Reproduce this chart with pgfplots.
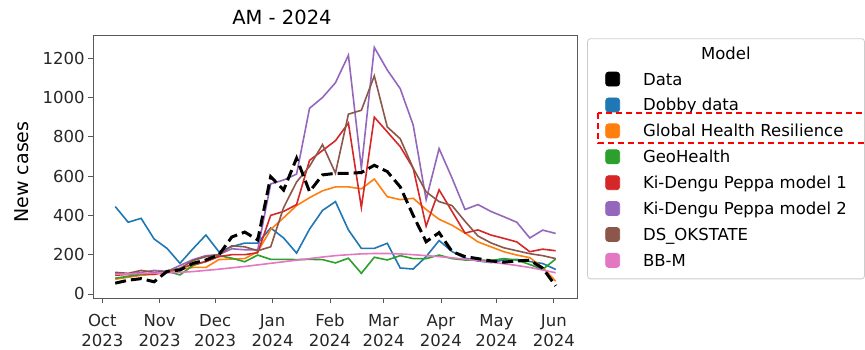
\documentclass[border=0pt]{standalone}
\usepackage{fontspec}
\setmainfont{DejaVu Sans}
\usepackage{pgfplots}
\pgfplotsset{compat=1.18}
\usepackage{pgfplotstable}
\definecolor{cblue}{HTML}{1F77B4}
\definecolor{corange}{HTML}{FF7F0E}
\definecolor{cgreen}{HTML}{2CA02C}
\definecolor{cred}{HTML}{D62728}
\definecolor{cpurple}{HTML}{9467BD}
\definecolor{cbrown}{HTML}{8C564B}
\definecolor{cpink}{HTML}{E377C2}
\pgfplotstableread{
d data dobby ghr geo kd1 kd2 ds bbm
7 55 445 75 80 95 105 110 100
14 70 365 85 90 100 100 105 102
21 78 385 95 100 105 110 120 104
28 62 280 100 105 100 120 110 106
35 115 232 110 115 115 115 115 108
42 122 156 125 97 130 145 130 110
49 156 230 135 145 150 175 170 114
56 173 300 135 165 165 195 190 120
63 199 215 175 195 190 200 200 126
70 290 241 178 182 200 230 245 133
77 315 259 180 164 200 225 240 140
84 275 259 215 198 210 225 220 148
91 597 336 328 176 400 560 240 156
98 529 285 388 176 420 580 440 164
105 691 208 450 175 455 610 570 172
112 521 330 490 176 680 945 650 180
119 606 425 525 175 730 1000 760 188
126 614 470 545 158 780 1075 615 195
133 614 326 545 182 870 1215 915 200
140 618 232 535 105 440 640 935 204
147 655 232 585 187 900 1255 1110 206
154 623 258 495 173 825 1140 850 206
161 545 132 480 195 750 1045 790 204
168 400 127 487 180 640 860 640 200
175 266 190 430 180 345 480 520 195
182 312 272 380 198 530 740 470 190
189 216 216 350 180 420 590 450 184
196 190 182 310 173 310 430 370 177
203 180 168 265 173 326 455 295 170
210 168 160 240 170 300 420 260 162
217 162 173 215 180 283 393 235 154
224 168 176 198 172 265 365 220 145
231 172 165 185 150 215 285 205 135
238 131 155 135 125 228 325 195 122
245 41 125 65 178 220 308 180 108
}\tbl
\begin{document}
\begin{tikzpicture}[font=\fontsize{16.5}{20}\selectfont]
\useasboundingbox (0,0) rectangle (865pt,350pt);
\begin{axis}[
  at={(93.2pt,51.9pt)}, anchor=south west,
  scale only axis, width=484.5pt, height=262.7pt,
  xmin=-4.9, xmax=256.9, ymin=-21, ymax=1316,
  xtick={0,31,61,92,123,152,183,213,244},
  xticklabels={{\strut Oct\\2023},{\strut Nov\\2023},{\strut Dec\\2023},{\strut Jan\\2024},{\strut Feb\\2024},{\strut Mar\\2024},{\strut Apr\\2024},{\strut May\\2024},{\strut Jun\\2024}},
  xticklabel style={align=center, font=\fontsize{16.5}{20}\selectfont, text=black!85, yshift=-6pt},
  ytick={0,200,400,600,800,1000,1200},
  yticklabels={0,200,400,600,800,1000,1200},
  yticklabel style={font=\fontsize{16.5}{20}\selectfont, text=black!85},
  tick align=outside, tick pos=left,
  major tick length=5pt,
  axis line style={black!65, line width=0.8pt},
  every tick/.style={black!65, line width=0.8pt},
  ylabel={New cases},
  ylabel style={at={(axis description cs:-0.1466,0.48)}, anchor=center, font=\fontsize{19}{20}\selectfont},
  legend image code/.code={\fill[#1] (0pt,-5pt) rectangle (14pt,9pt);},
  legend cell align=left,
  legend style={at={(rel axis cs:1.0195,0.989)}, anchor=north west,
    draw=black!20, rounded corners=3pt, line width=0.8pt,
    inner xsep=17.7pt, inner ysep=8.5pt, row sep=8.5pt,
    nodes={inner sep=0pt, text height=12pt, text depth=4pt},
    font=\fontsize{16.5}{20}\selectfont,
    /tikz/every odd column/.append style={column sep=23pt}},
]
\addlegendimage{empty legend}\addlegendentry{\hspace*{58pt}Model}
\addlegendimage{color=black}\addlegendentry{Data}
\addlegendimage{color=cblue}\addlegendentry{Dobby data}
\addlegendimage{color=corange}\addlegendentry{Global Health Resilience}
\addlegendimage{color=cgreen}\addlegendentry{GeoHealth}
\addlegendimage{color=cred}\addlegendentry{Ki-Dengu Peppa model 1}
\addlegendimage{color=cpurple}\addlegendentry{Ki-Dengu Peppa model 2}
\addlegendimage{color=cbrown}\addlegendentry{DS\_OKSTATE}
\addlegendimage{color=cpink}\addlegendentry{BB-M}
\addplot[forget plot, cblue, line width=1.6pt] table[x=d,y=dobby]{\tbl};
\addplot[forget plot, corange, line width=1.6pt] table[x=d,y=ghr]{\tbl};
\addplot[forget plot, cgreen, line width=1.6pt] table[x=d,y=geo]{\tbl};
\addplot[forget plot, cred, line width=1.6pt] table[x=d,y=kd1]{\tbl};
\addplot[forget plot, cpurple, line width=1.6pt] table[x=d,y=kd2]{\tbl};
\addplot[forget plot, cbrown, line width=1.6pt] table[x=d,y=ds]{\tbl};
\addplot[forget plot, cpink, line width=1.6pt] table[x=d,y=bbm]{\tbl};
\addplot[forget plot, black, line width=3pt, dash pattern=on 11pt off 5pt] table[x=d,y=data]{\tbl};
\end{axis}
\node at (282pt,333pt) {\fontsize{19.5}{20}\selectfont AM - 2024};
\draw[red, line width=1.5pt, dash pattern=on 6pt off 4pt] (598pt,237pt) rectangle (875pt,207pt);
\end{tikzpicture}
\end{document}
